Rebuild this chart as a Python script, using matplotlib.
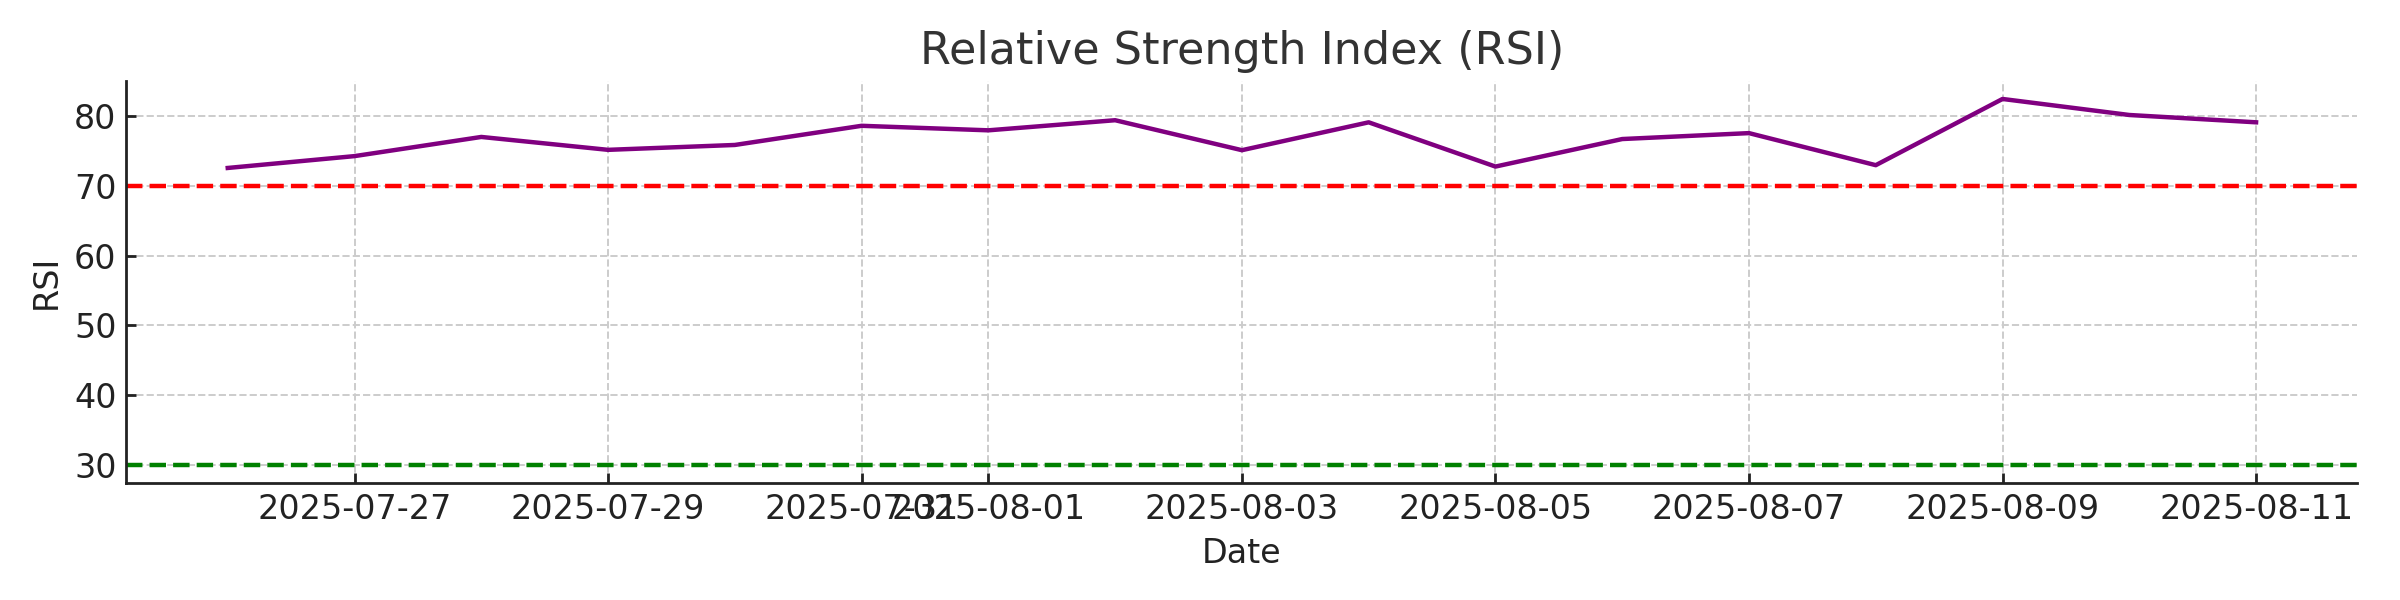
import numpy as np
import pandas as pd
import matplotlib
matplotlib.use('Agg')
import matplotlib.pyplot as plt
from matplotlib.ticker import MultipleLocator

# Dates and RSI values
dates = pd.date_range('2025-07-26', '2025-08-11', freq='D')
rsi = [72.6, 74.3, 77.05, 75.2, 75.9, 78.65, 78.0, 79.45, 75.15,
       79.15, 72.8, 76.75, 77.6, 73.0, 82.5, 80.2, 79.15]

overbought = 70
oversold = 30

plt.rcParams['font.family'] = 'DejaVu Sans'
plt.rcParams['axes.spines.top'] = False
plt.rcParams['axes.spines.right'] = False

fig, ax = plt.subplots(figsize=(12, 3), dpi=200)

ax.plot(dates, rsi, color='purple', linewidth=1.6)
ax.axhline(overbought, color='red', linestyle='--', linewidth=1.6)
ax.axhline(oversold, color='green', linestyle='--', linewidth=1.6)

ax.set_title('Relative Strength Index (RSI)', fontsize=16, color='#333333')
ax.set_xlabel('Date', fontsize=12, color='#222222')
ax.set_ylabel('RSI', fontsize=12, color='#222222')
ax.yaxis.set_major_locator(MultipleLocator(10))
ax.tick_params(labelsize=12, colors='#222222', direction='in', length=3.6, width=1)
ax.grid(True, linestyle='--', color='#cccccc', linewidth=0.7)
for s in ['left', 'bottom']:
    ax.spines[s].set_color('#222222')
    ax.spines[s].set_linewidth(1)

plt.tight_layout()
plt.savefig('out.png')
